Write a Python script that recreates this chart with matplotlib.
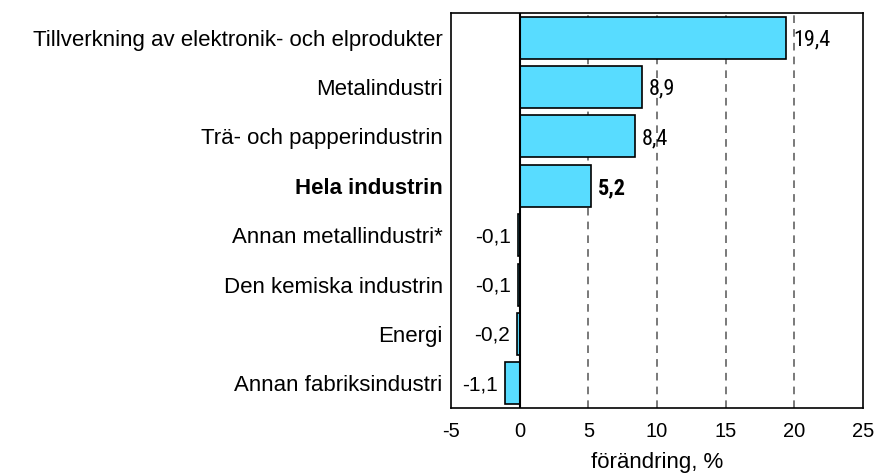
import matplotlib
matplotlib.use("Agg")
import matplotlib.pyplot as plt

# data (top to bottom)
categories = ["Tillverkning av elektronik- och elprodukter", "Metalindustri",
              "Trä- och papperindustrin", "Hela industrin", "Annan metallindustri*",
              "Den kemiska industrin", "Energi", "Annan fabriksindustri"]
values = [19.4, 8.9, 8.4, 5.2, -0.1, -0.1, -0.2, -1.1]
value_labels = ["19,4", "8,9", "8,4", "5,2", "-0,1", "-0,1", "-0,2", "-1,1"]
bold_row = "Hela industrin"
xticks = [-5, 0, 5, 10, 15, 20, 25]

plt.rcParams['font.family'] = ['Liberation Sans', 'DejaVu Sans']

fig = plt.figure(figsize=(8.76, 4.75), dpi=100)
ax = fig.add_axes([451/876, 1 - 408/475, 412/876, 395/475])

ypos = list(range(len(categories)))
ax.barh(ypos, values, height=0.85, color="#58dcff", edgecolor="black", linewidth=1.2, zorder=3)

# dashed grid lines behind the bars
for x in [5, 10, 15, 20]:
    ax.axvline(x, color="#555555", linestyle=(0, (5, 4)), linewidth=1.1, zorder=1)
ax.axvline(0, color="black", linewidth=1.5, zorder=4)

narrow = ["Roboto Condensed", "DejaVu Sans"]
for i, v in enumerate(values):
    wt = 700 if categories[i] == bold_row else 400
    if v >= 0:
        ax.annotate(value_labels[i], (v, i), xytext=(5, -1.5), textcoords="offset points",
                    ha="left", va="center", fontsize=16, fontweight=wt,
                    family=narrow, zorder=5)
    else:
        ax.annotate(value_labels[i], (v, i), xytext=(-5, -1), textcoords="offset points",
                    ha="right", va="center", fontsize=15, family="Liberation Sans", zorder=5)

ax.set_xlim(-5, 25)
ax.set_ylim(7.5, -0.5)
ax.set_xticks(xticks)
ax.set_xticklabels([str(t) for t in xticks], fontsize=14.5)
ax.set_yticks(ypos)
ax.set_yticklabels(categories, fontsize=16)
for lbl in ax.get_yticklabels():
    if lbl.get_text() == bold_row:
        lbl.set_fontweight("bold")
ax.tick_params(axis="y", length=0, pad=6)
ax.tick_params(axis="x", length=0, pad=10)
ax.set_xlabel("förändring, %", fontsize=16, labelpad=8)
for s in ax.spines.values():
    s.set_linewidth(1.2)

fig.savefig("out.png", dpi=100)
